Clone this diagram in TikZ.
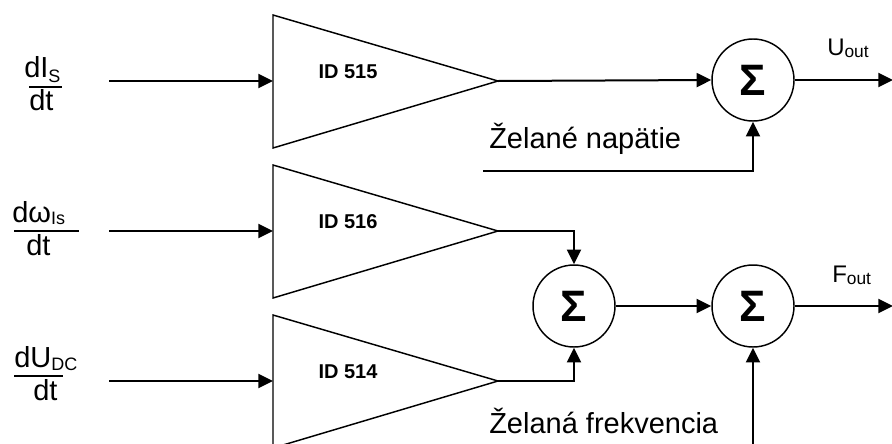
\documentclass[tikz,border=0pt]{standalone}
\usepackage{fontspec}
\setmainfont{Liberation Sans}
\usetikzlibrary{arrows.meta}
\newcommand\lsub[2]{\raisebox{#1}{\fontsize{13.5}{14}\selectfont #2}}
\newcommand\osub[1]{\raisebox{-1.5pt}{\fontsize{13}{14}\selectfont #1}}
\begin{document}
\begin{tikzpicture}[x=0.75pt,y=-0.75pt,
  arr/.style={-{Triangle[length=11pt,width=10.5pt]}, line width=1.5pt},
  amp/.style={line width=1.1pt, line join=miter},
  sumnode/.style={circle, draw, line width=1.1pt, minimum size=61.5pt, inner sep=0pt,
    font=\fontsize{33}{33}\selectfont\bfseries},
  lbl/.style={inner sep=0pt, anchor=base west, font=\fontsize{21.75}{26}\selectfont},
  outl/.style={inner sep=0pt, anchor=base west, font=\fontsize{18}{20}\selectfont},
  idl/.style={inner sep=0pt, font=\fontsize{15}{17}\selectfont\bfseries},
  bar/.style={line width=0.8pt}
]
\useasboundingbox (0,0) rectangle (892,443);

% amplifiers
\draw[amp] (273,15) -- (498,81) -- (273,148) -- cycle;
\draw[amp] (273,165) -- (498,231) -- (273,298) -- cycle;
\draw[amp] (273,315) -- (498,381) -- (273,448) -- cycle;
\coordinate (a1in) at (273,81);  \coordinate (a1out) at (498,81);
\coordinate (a2in) at (273,231); \coordinate (a2out) at (498,231);
\coordinate (a3in) at (273,381); \coordinate (a3out) at (498,381);
\node[idl] (id1) at (348,72) {ID 515};
\node[idl] (id2) at (348,222) {ID 516};
\node[idl] (id3) at (348,372) {ID 514};

% summing junctions
\node[sumnode] (s1) at (753,80) {\raisebox{-1pt}{Σ}};
\node[sumnode] (s2) at (574,306) {\raisebox{-1pt}{Σ}};
\node[sumnode] (s3) at (753,306) {\raisebox{-1pt}{Σ}};

% inputs
\coordinate (i1) at (109,81);
\coordinate (i2) at (109,231);
\coordinate (i3) at (109,381);
\draw[arr] (i1) -- (a1in);
\draw[arr] (i2) -- (a2in);
\draw[arr] (i3) -- (a3in);

% fractions
\node[lbl] (n1) at (24,77) {dI\lsub{-3.75pt}{S}};
\node[lbl] (d1) at (29,110) {dt};
\draw[bar] (29,87) -- (62,87);
\node[lbl] (n2) at (12,222) {dω\lsub{-1.5pt}{Is}};
\node[lbl] (d2) at (26,255) {dt};
\draw[bar] (14,231) -- (79,231);
\node[lbl] (n3) at (14,367) {dU\lsub{-2.25pt}{DC}};
\node[lbl] (d3) at (33,400) {dt};
\draw[bar] (14,376) -- (63,376);

% connections
\draw[arr] (a1out) -- (s1.west);
\draw[arr] (a2out) -| (s2.north);
\draw[arr] (a3out) -| (s2.south);
\draw[arr] (s2.east) -- (s3.west);

\coordinate (nstart) at (483,171);
\draw[arr] (nstart) -| (s1.south);
\node[lbl] (nap) at (489,148) {Želané napätie};

\coordinate (fstart) at (753,446);
\draw[arr] (fstart) -- (s3.south);
\node[lbl] (frek) at (489,433) {Želaná frekvencia};

\coordinate (uend) at (893,80);
\draw[arr] (s1.east) -- (uend);
\node[outl] (uout) at (827,55) {U\osub{out}};

\coordinate (fend) at (893,306);
\draw[arr] (s3.east) -- (fend);
\node[outl] (fout) at (832,282) {F\osub{out}};
\end{tikzpicture}
\end{document}
